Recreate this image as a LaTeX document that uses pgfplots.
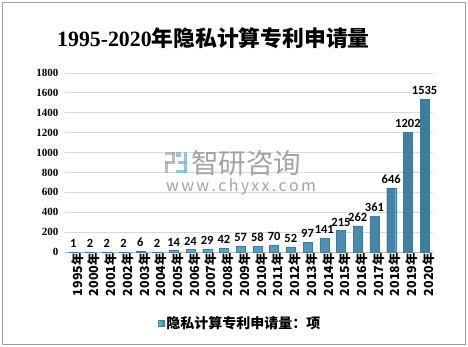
\documentclass[border=0pt]{standalone}
\usepackage{pgfplots}
\pgfplotsset{compat=1.18}
\usepackage{fontspec}
\newfontfamily\cjk{Noto Sans CJK SC}
\newfontfamily\serifb{Liberation Serif}
\newfontfamily\carl{Carlito}
\definecolor{barL}{HTML}{86BEDA}
\definecolor{barM}{HTML}{5B9EC2}
\definecolor{barR}{HTML}{3E7C9E}
\definecolor{gridc}{HTML}{D9D9D9}
\begin{document}
\begin{tikzpicture}[x=1pt,y=1pt]
\path (0,0) rectangle (468,347);
\draw[gray!75, line width=1.3pt] (2.5,2.5) rectangle (465.5,344.5);
% title
\node[anchor=west, inner sep=0] at (57,309) {\fontsize{21.8}{21.8}\selectfont\serifb\bfseries 1995-2020\cjk\bfseries 年隐私计算专利申请量};
\begin{axis}[
  at={(65pt,95pt)}, anchor=south west,
  width=368pt, height=179pt, scale only axis,
  ymin=0, ymax=1800, ytick distance=200,
  xmin=-0.5, xmax=21.5,
  xtick=data,
  xticklabels={1995年,2000年,2001年,2002年,2003年,2004年,2005年,2006年,2007年,2008年,2009年,2010年,2011年,2012年,2013年,2014年,2015年,2016年,2017年,2018年,2019年,2020年},
  xticklabel style={rotate=90, anchor=east, font=\cjk\bfseries\fontsize{12.5}{12.5}\selectfont, inner sep=1pt, yshift=-4pt},
  yticklabel style={font=\serifb\bfseries\fontsize{11}{11}\selectfont, xshift=-3pt},
  /pgf/number format/assume math mode=true,
  /pgf/number format/1000 sep={},
  ymajorgrids, grid style={draw=gridc, line width=0.9pt},
  axis x line*=bottom, axis y line*=left,
  y axis line style={draw=none},
  x axis line style={draw=gray!55, line width=0.9pt},
  major tick length=0pt,
  clip=false,
  nodes near coords,
  every node near coord/.append style={font=\carl\bfseries\fontsize{12.5}{12.5}\selectfont, text=black, yshift=1pt},
  legend style={at={(0.476,-0.397)}, anchor=center, draw=none, fill=none,
    font=\cjk\bfseries\fontsize{14}{14}\selectfont, inner sep=0pt},
  legend image code/.code={\fill[barM, draw=barR] (0pt,-3pt) rectangle (6pt,3pt);},
]
\addplot[ybar, bar width=9pt, left color=barL, right color=barR, middle color=barM, draw=barR, line width=0.3pt]
coordinates {(0,1) (1,2) (2,2) (3,2) (4,6) (5,2) (6,14) (7,24) (8,29) (9,42) (10,57) (11,58) (12,70) (13,52) (14,97) (15,141) (16,215) (17,262) (18,361) (19,646) (20,1202) (21,1535)};
\addlegendentry{隐私计算专利申请量：项}
\end{axis}
% watermark
\begin{scope}[opacity=0.75]
\fill[gray!70] (165,192) rectangle (175,195);
\fill[gray!70] (172,185) rectangle (175,195);
\fill[gray!70] (165,183) rectangle (175,186);
\fill[gray!70] (165,174) rectangle (168,186);
\fill[barM!80] (178,183) rectangle (187,186);
\fill[barM!80] (184,174) rectangle (187,195);
\fill[barM!80] (176,174) rectangle (187,177);
\fill[barM!80] (176,190) rectangle (181,195);
\end{scope}
\node[anchor=west, inner sep=0, text=gray!85, opacity=0.85] at (191,184) {\fontsize{27.5}{27.5}\selectfont\cjk 智研咨询};
\node[anchor=west, inner sep=0, text=gray!85, opacity=0.85] at (166,160) {\fontsize{16}{16}\selectfont\cjk w\kern2.3pt w\kern2.3pt w\kern2.3pt .\kern2.3pt c\kern2.3pt h\kern2.3pt y\kern2.3pt x\kern2.3pt x\kern2.3pt .\kern2.3pt c\kern2.3pt o\kern2.3pt m};
\end{tikzpicture}
\end{document}
